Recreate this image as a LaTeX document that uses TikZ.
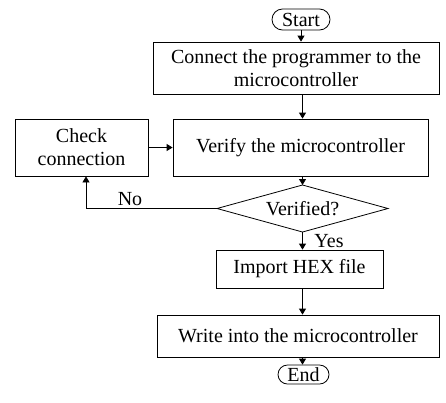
\documentclass[tikz,border=0pt]{standalone}
\usepackage{fontspec}
\setmainfont{Liberation Serif}
\usetikzlibrary{shapes.misc,arrows.meta}
\begin{document}
\begin{tikzpicture}[x=1bp,y=-1bp,
  every node/.style={font=\fontsize{20bp}{23bp}\selectfont, inner sep=0pt, align=center},
  box/.style={draw, line width=0.8bp},
  term/.style={draw, line width=0.8bp, rounded rectangle},
  outline/.style={draw, line width=0.8bp},
  flow/.style={draw, line width=0.8bp, -{Triangle[width=7bp,length=6bp]}},
  lbl/.style={inner sep=0pt}]
  \useasboundingbox (0,0) rectangle (446,402);

  % main column nodes
  \node[term, minimum width=58bp, minimum height=21bp] (start) at (301,19.5) {Start};
  \node[box, minimum width=286bp, minimum height=52bp] (connect) at (296,68)
    {Connect the programmer to the\\microcontroller};
  \node[box, minimum width=255bp, minimum height=57bp] (verify) at (300.5,147.5)
    {Verify the microcontroller};
  \node[box, minimum width=133bp, minimum height=57bp] (check) at (81.5,147.5)
    {Check\\connection};

  % decision diamond
  \coordinate (dtop) at (302.5,185);
  \coordinate (dright) at (388,208.5);
  \coordinate (dbottom) at (302.5,232);
  \coordinate (dleft) at (217,208.5);
  \draw[outline] (dtop) -- (dright) -- (dbottom) -- (dleft) -- cycle;
  \node (verified) at (302.5,208.5) {Verified?};

  \node[box, minimum width=167bp, minimum height=38bp] (import) at (299.5,269)
    {Import HEX file};
  \node[box, minimum width=282bp, minimum height=42bp] (write) at (298,336)
    {Write into the microcontroller};
  \node[term, minimum width=51bp, minimum height=19bp] (end) at (303.5,374.5) {End};

  % connectors down the column
  \draw[flow] (start.south) -- (start.south |- connect.north);
  \draw[flow] (dtop |- connect.south) -- (dtop |- verify.north);
  \draw[flow] (dtop |- verify.south) -- (dtop);
  \draw[flow] (dbottom) -- (dbottom |- import.north);
  \draw[flow] (dbottom |- import.south) -- (dbottom |- write.north);
  \draw[flow] (dbottom |- write.south) -- (dbottom |- end.north);

  % retry loop
  \coordinate (corner) at (86,208.5);
  \draw[flow] (dleft) -- (corner) -- (corner |- check.south);
  \draw[flow] (check.east) -- (verify.west);

  % branch labels
  \node[lbl] (nolbl) at (130,199) {No};
  \node[lbl] (yeslbl) at (329,241) {Yes};
\end{tikzpicture}
\end{document}
